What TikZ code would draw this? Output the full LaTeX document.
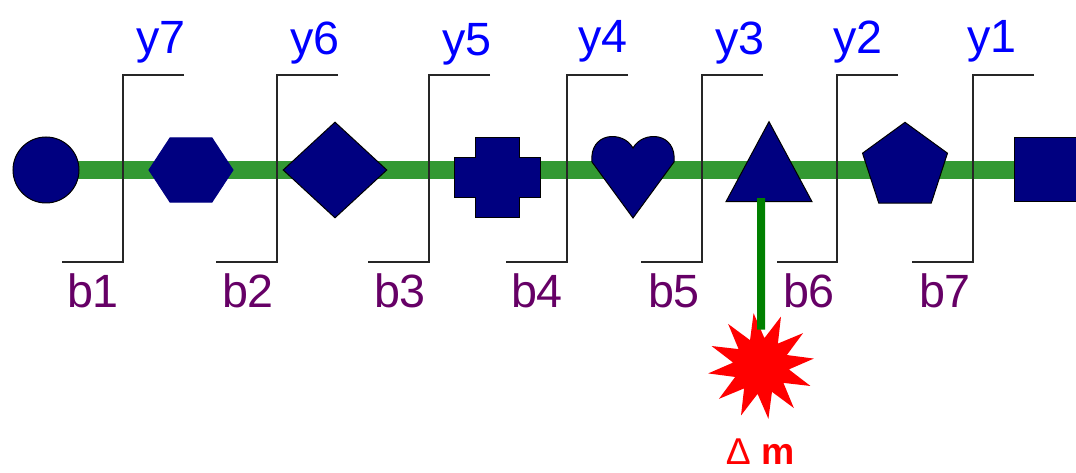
\documentclass[tikz,border=0pt]{standalone}
\usepackage{fontspec}
\setmainfont{Liberation Sans}
\usetikzlibrary{shapes.geometric,backgrounds}

\definecolor{glycan}{RGB}{0,0,128}
\definecolor{chain}{RGB}{51,153,51}
\definecolor{lossgreen}{RGB}{0,128,0}
\definecolor{ionblue}{RGB}{0,0,255}
\definecolor{ionpurple}{RGB}{102,0,102}

\begin{document}
\begin{tikzpicture}[x= 0.75pt, y= -0.75pt,
    residue/.style={draw= black, fill= glycan, line width= 0.75pt, inner sep= 0pt},
    bracket/.style={draw= black!85, line width= 1.2pt},
    yion/.style={text= ionblue, anchor= base, font= \fontsize{35}{40}\selectfont},
    bion/.style={text= ionpurple, anchor= base, font= \fontsize{35}{40}\selectfont}]
      \useasboundingbox (0,0) rectangle (1076,473);
      \clip (0,0) rectangle (1076,473);
      \begin{scope}[every node/.style={residue}]
        \node (circ) [circle, minimum size= 49.5pt] at (46,170) {};
        \node (hex) [regular polygon, regular polygon sides= 6, minimum size= 63pt,
          draw= glycan, yscale= 0.88, transform shape] at (191,170) {};
        \node (diam) [diamond, minimum width= 78pt, minimum height= 72pt] at (335,170) {};
        \coordinate (cross) at (497,178);
        \coordinate (heart) at (633,170);
        \node (tri) [regular polygon, regular polygon sides= 3, minimum size= 74.5pt,
          yscale= 1.074, transform shape] at (769,175) {};
        \node (pent) [regular polygon, regular polygon sides= 5, minimum size= 67pt] at (905,167) {};
        \node (sq) [rectangle, minimum size= 48pt] at (1046,170) {};
      \end{scope}
      \filldraw[residue, shift={(cross)}] (-22,-40) -- (22,-40) -- (22,-20) -- (43,-20)
        -- (43,20) -- (22,20) -- (22,40) -- (-22,40) -- (-22,20) -- (-43,20)
        -- (-43,-20) -- (-22,-20) -- cycle;
      \filldraw[residue, shift={(heart)}] (0,-22) .. controls (-10,-40) and (-44,-38) .. (-41,-8)
        -- (0,48) -- (41,-8) .. controls (44,-38) and (10,-40) .. (0,-22) -- cycle;
      \begin{scope}[on background layer]
        \draw[chain, line width= 13.5pt] (circ.center) -- (sq.center);
      \end{scope}
      \draw[bracket] (184,75) -- (123,75) -- (123,262) -- (62,262);
      \draw[bracket] (338,75) -- (277,75) -- (277,262) -- (216,262);
      \draw[bracket] (490,75) -- (429,75) -- (429,262) -- (368,262);
      \draw[bracket] (628,75) -- (567,75) -- (567,262) -- (506,262);
      \draw[bracket] (763,75) -- (702,75) -- (702,262) -- (641,262);
      \draw[bracket] (898,75) -- (837,75) -- (837,262) -- (777,262);
      \draw[bracket] (1034,75) -- (973,75) -- (973,262) -- (912,262);
      \node (y7) [yion] at (161,54) {y7};
      \node (y6) [yion] at (315,55) {y6};
      \node (y5) [yion] at (467,56) {y5};
      \node (y4) [yion] at (603,53) {y4};
      \node (y3) [yion] at (740,55) {y3};
      \node (y2) [yion] at (858,54) {y2};
      \node (y1) [yion] at (992,53) {y1};
      \node (b1) [bion] at (93,308) {b1};
      \node (b2) [bion] at (248,308) {b2};
      \node (b3) [bion] at (400,308) {b3};
      \node (b4) [bion] at (537,308) {b4};
      \node (b5) [bion] at (674,308) {b5};
      \node (b6) [bion] at (809,308) {b6};
      \node (b7) [bion] at (945,308) {b7};
      \node (loss) [star, star points= 12, star point ratio= 1.9, minimum size= 80pt,
        inner sep= 0pt, fill= red, rotate= 8] at (761,366) {};
      \draw[lossgreen, line width= 6pt] ([xshift= -6pt, yshift= 3pt]tri.south) -- (loss);
      \node (dm) [text= red, anchor= base, font= \fontsize{28}{30}\selectfont] at (760,465)
        {Δ \textbf{m}};
    \end{tikzpicture}
\end{document}
